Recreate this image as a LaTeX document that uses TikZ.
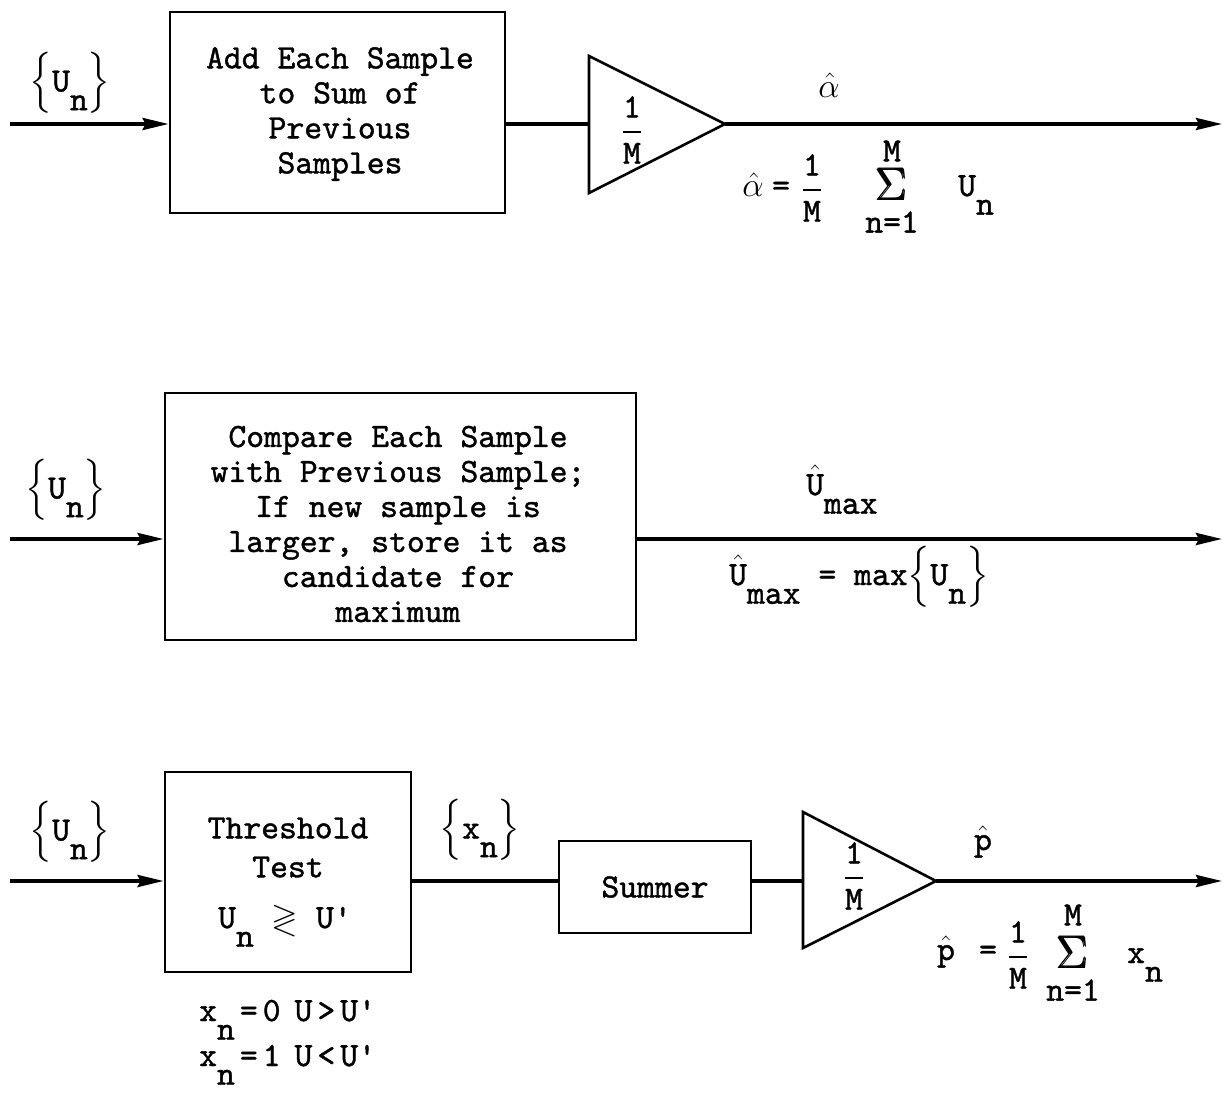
\RequirePackage{fix-cm}
\documentclass[tikz,border=0pt]{standalone}
\usepackage{amsmath}
\usepackage{amssymb}
\usepackage{fontspec}
\setmonofont{lmmono10-regular.otf}[FakeBold=1.2]
\usetikzlibrary{arrows.meta}
\newcommand\hatop[1]{$\hat{\hbox{#1}}$}
\newcommand\lsub[2]{#1\raisebox{-0.55em}{#2}}
\newcommand\setof[1]{$\left\{\hbox{#1}\right\}$}
\newcommand\fr{\ensuremath{\genfrac{}{}{1.6pt}{0}{\hbox{1}}{\hbox{M}}}}
\newcommand\sig{\fontsize{46}{46}\selectfont$\pmb{\Sigma}$}
\newcommand\gap[1]{\hspace{#1pt}}
\begin{document}
\begin{tikzpicture}[x=1pt,y=-1pt,
  every node/.style={font=\ttfamily\fontsize{34}{35}\selectfont, inner sep=0pt},
  blk/.style={draw, line width=2.8pt, inner sep=0pt},
  sigline/.style={line width=3.6pt},
  arr/.style={sigline, -{Stealth[length=26pt,width=12pt,inset=3pt]}},
  tri/.style={draw, line width=2.6pt, line join=miter},
  txt/.style={align=center}]
\useasboundingbox (0,0) rectangle (1223,1092);

% ---------- row 1 ----------
\node[blk, minimum width=335pt, minimum height=201pt] (b1) at (337.5,112.5) {};
\node[txt] (b1t) at (340,114) {Add Each Sample\\to Sum of\\Previous\\Samples};
\coordinate (in1) at (10,124);
\draw[arr] (in1) -- (in1 -| b1.west);
\node (u1) at (70,83) {\setof{\lsub{U}{n}}};
\coordinate (t1a) at (589,56);
\coordinate (t1b) at (589,193);
\coordinate (t1p) at (725,124);
\draw[tri] (t1a) -- (t1p) -- (t1b) -- cycle;
\draw[sigline] (b1.east |- in1) -- (t1a |- in1);
\coordinate (o1) at (1222,124);
\draw[arr] (t1p) -- (o1);
\node (g1) at (632,130) {\fr};
\node[anchor=base] (a1) at (829,97) {$\hat{\alpha}$};
\node[anchor=base] (a1f) at (753,196) {$\hat{\alpha}$};
\node (e1) at (781,189) {=};
\node (g1f) at (812,188) {\fr};
\node (s1) at (892,184) {\sig};
\node (m1) at (892,151) {M};
\node (n1) at (892,222) {n=1};
\node[anchor=base west] (v1) at (958,196) {\lsub{U}{n}};

% ---------- row 2 ----------
\node[blk, minimum width=471pt, minimum height=247pt] (b2) at (400.5,516.5) {};
\node[txt] (b2t) at (398,524) {Compare Each Sample\\with Previous Sample;\\If new sample is\\larger, store it as\\candidate for\\maximum};
\coordinate (in2) at (10,539);
\draw[arr] (in2) -- (in2 -| b2.west);
\coordinate (o2) at (1222,539);
\draw[arr] (b2.east |- in2) -- (o2);
\node (u2) at (66,490) {\setof{\lsub{U}{n}}};
\node[anchor=base west] (um2) at (806,495) {\hatop{U}\raisebox{-0.55em}{max}};
\node[anchor=base west] (f2) at (729,585) {\hatop{U}\raisebox{-0.55em}{max} = max\setof{\lsub{U}{n}}};

% ---------- row 3 ----------
\node[blk, minimum width=246pt, minimum height=200pt] (b3) at (288,872) {};
\node (b3a) at (288,828) {Threshold};
\node (b3b) at (288,867) {Test};
\node[anchor=base west] (b3c) at (218,928) {\lsub{U}{n} $\gtrless$ U\textquotesingle};
\coordinate (in3) at (10,881);
\draw[arr] (in3) -- (in3 -| b3.west);
\node (u3) at (70,832) {\setof{\lsub{U}{n}}};
\node (x3) at (480,830) {\setof{\lsub{x}{n}}};
\node[blk, minimum width=192pt, minimum height=92pt] (s3) at (655,887) {Summer};
\draw[sigline] (b3.east |- in3) -- (s3.west |- in3);
\coordinate (t2a) at (803,812);
\coordinate (t2b) at (803,948);
\coordinate (t2p) at (936,881);
\draw[tri] (t2a) -- (t2p) -- (t2b) -- cycle;
\draw[sigline] (s3.east |- in3) -- (t2a |- in3);
\coordinate (o3) at (1222,881);
\draw[arr] (t2p) -- (o3);
\node (g2) at (854,876) {\fr};
\node[anchor=base] (p3) at (983,850) {\hatop{p}};
\node[anchor=base] (p3f) at (946,960) {\hatop{p}};
\node (e3) at (988,953) {=};
\node (g3f) at (1018,955) {\fr};
\node (s3s) at (1073,952) {\sig};
\node (m3) at (1073,915) {M};
\node (n3) at (1073,990) {n=1};
\node[anchor=base west] (v3) at (1127,963) {\lsub{x}{n}};
\node[anchor=base west] (c1) at (199,1021) {\lsub{x}{n}\gap{5}=\gap{5}0\gap{14}U\gap{5}>\gap{5}U\textquotesingle};
\node[anchor=base west] (c2) at (199,1066) {\lsub{x}{n}\gap{5}=\gap{5}1\gap{14}U\gap{5}<\gap{5}U\textquotesingle};
\end{tikzpicture}
\end{document}
